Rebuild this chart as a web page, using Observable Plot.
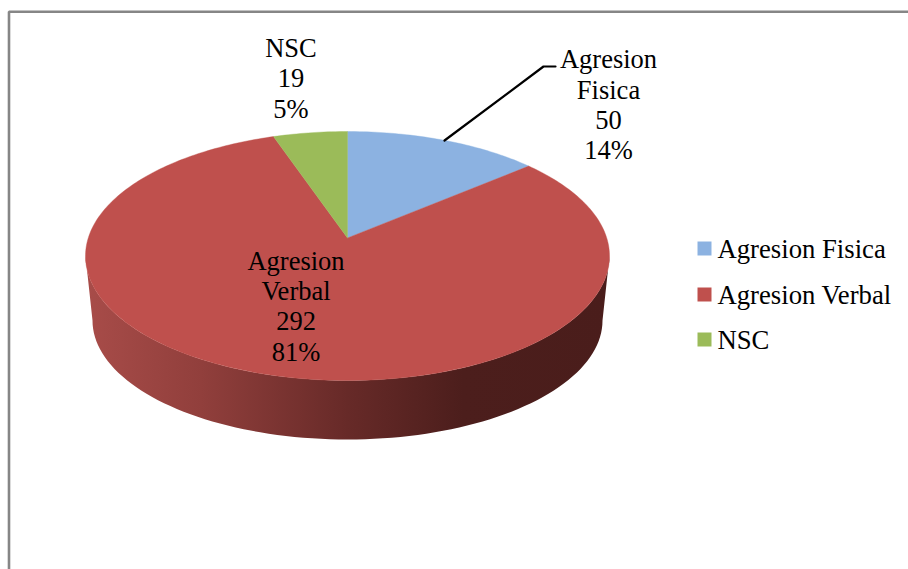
<!DOCTYPE html>
<html>
<head>
<meta charset="utf-8">
<script src="https://cdn.jsdelivr.net/npm/d3@7"></script>
<script src="https://cdn.jsdelivr.net/npm/@observablehq/plot@0.6"></script>
<style>html,body{margin:0;padding:0;background:#fff}svg{display:block}</style>
</head>
<body>
<div id="chart"></div>
<script>
// Data
const categories = ["Agresion Fisica", "Agresion Verbal", "NSC"];
const values = [50, 292, 19];
const colors = ["#8cb2e1", "#bf504d", "#9bbb59"];

// Layout (pie units: the top ellipse has radius 1)
const W = 908, H = 569;
const cx = 347, cy = 255.5, rx = 262, ry = 124.5;
const tilt = -0.145;              // perspective shift of the pie's centre
const wall = {cy: 320, rx: 255, ry: 119};
const labelAt = [[608, 103.5], [295.5, 305], [290.5, 77]];
const legendY = [248, 294, 339];
const leaderPx = [[444, 140], [543, 66], [555, 66]];

const ux = (px) => (px - cx) / rx;
const uy = (py) => (cy - py) / ry;

const total = d3.sum(values);
const perc = values.map((v) => Math.round((v / total) * 100));

// Perspective projection of a circle angle onto the ellipse
function project(theta) {
  const x = Math.sin(theta), y = -Math.cos(theta);
  const w = 1 + tilt * y;
  return {x: (x * Math.sqrt(1 - tilt * tilt)) / w, y: -(y + tilt) / w};
}

// Slices from cumulative values
const slices = [];
let acc = 0;
categories.forEach((name, i) => {
  const a0 = (acc / total) * 2 * Math.PI;
  acc += values[i];
  const a1 = (acc / total) * 2 * Math.PI;
  const n = Math.max(2, Math.ceil(((a1 - a0) * 180) / Math.PI));
  const apex = {x: 0, y: -tilt};
  slices.push({...apex, name});
  d3.range(n + 1).forEach((k) => slices.push({...project(a0 + ((a1 - a0) * k) / n), name}));
  slices.push({...apex, name});
});

// Side wall: lower half of the top ellipse and lower half of the bottom ellipse
const steps = d3.range(0, 181, 2).map((d) => (d * Math.PI) / 180);
const wallPts = [
  ...steps.map((t) => ({x: Math.cos(t), y: -Math.sin(t)})),
  ...steps.slice().reverse().map((t) => ({
    x: (wall.rx / rx) * Math.cos(t),
    y: uy(wall.cy) - (wall.ry / ry) * Math.sin(t)
  }))
];

const labels = categories.map((name, i) => ({
  text: `${name.replace(" ", "\n")}\n${values[i]}\n${perc[i]}%`,
  x: ux(labelAt[i][0]),
  y: uy(labelAt[i][1])
}));
const legend = categories.map((name, i) => ({name, y: uy(legendY[i])}));
const leader = leaderPx.map(([x, y]) => ({x: ux(x), y: uy(y)}));
const frame = [[8.5, H], [8.5, 11.2], [W, 11.2]].map(([x, y]) => ({x: ux(x), y: uy(y)}));

const font = "'Liberation Serif','Times New Roman',serif";

const svg = Plot.plot({
  width: W,
  height: H,
  margin: 0,
  style: {background: "#fff", fontFamily: font},
  x: {domain: [ux(0), ux(W)], range: [0, W], axis: null},
  y: {domain: [uy(H), uy(0)], range: [H, 0], axis: null},
  color: {domain: categories, range: colors},
  marks: [
    Plot.line(frame, {x: "x", y: "y", stroke: "#868686", strokeWidth: 2.6, strokeLinejoin: "miter"}),
    Plot.line(wallPts, {x: "x", y: "y", fill: "url(#wallGradient)", stroke: "none"}),
    Plot.line(slices, {x: "x", y: "y", z: "name", fill: "name", stroke: "name", strokeWidth: 0.4}),
    Plot.line(leader, {x: "x", y: "y", stroke: "#000", strokeWidth: 2.2, strokeLinejoin: "miter"}),
    Plot.text(labels, {x: "x", y: "y", text: "text", fontSize: 26.5, lineHeight: 1.15, fill: "#000", textAnchor: "middle"}),
    Plot.dot(legend, {x: () => ux(704), y: "y", symbol: "square", r: 7.9, fill: "name", stroke: "none"}),
    Plot.text(legend, {x: () => ux(717), y: "y", text: "name", fontSize: 26.7, fill: "#000", textAnchor: "start", dy: 1})
  ]
});

const defs = d3.select(svg).insert("defs", ":first-child");
const grad = defs.append("linearGradient").attr("id", "wallGradient")
  .attr("gradientUnits", "objectBoundingBox").attr("x1", 0).attr("x2", 1).attr("y1", 0).attr("y2", 0);
[[0, "#a84c49"], [0.22, "#913f3c"], [0.5, "#672a28"], [0.72, "#4c1e1c"], [1, "#4a1d1b"]]
  .forEach(([o, c]) => grad.append("stop").attr("offset", o).attr("stop-color", c));

document.getElementById("chart").appendChild(svg);
</script>
</body>
</html>
